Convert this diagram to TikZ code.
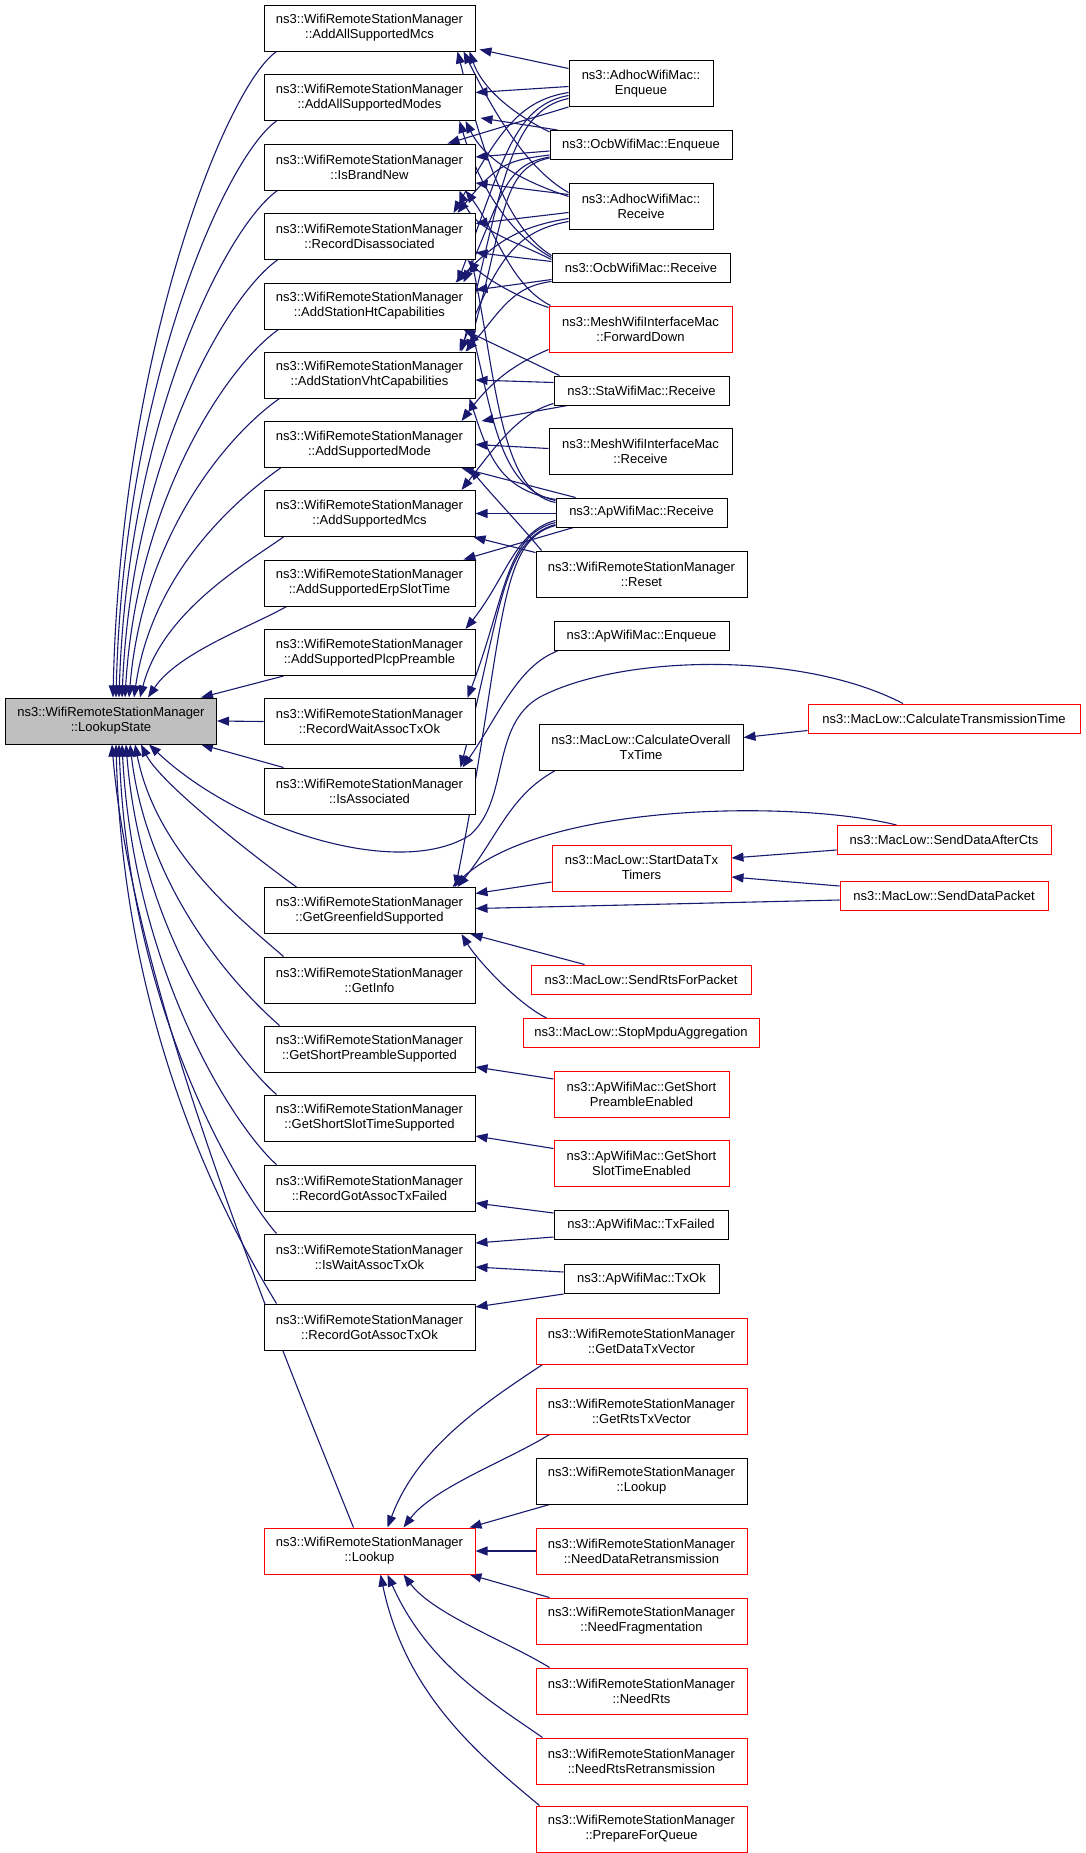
\documentclass[tikz,border=0pt]{standalone}
\usepackage{fontspec}
\setmainfont{Liberation Sans}
\usetikzlibrary{arrows.meta}
\pgfdeclarelayer{bg}
\pgfsetlayers{bg,main}
\definecolor{edgec}{HTML}{191970}
\definecolor{lsgray}{HTML}{BFBFBF}
\begin{document}
\begin{tikzpicture}[x=1pt,y=-1pt,
  nbox/.style={draw=black,line width=1pt,fill=white,inner sep=0pt,align=center,font=\fontsize{13}{15}\selectfont},
  rnbox/.style={nbox,draw=red},
  midbox/.style={nbox,minimum width=211pt,minimum height=46pt},
  rmidbox/.style={midbox,draw=red},
  ed/.style={draw=edgec,line width=1.1pt,-{Triangle[length=12pt,width=9pt]}}]
\begin{pgfonlayer}{bg}
\fill[white] (0,0) rectangle (1085,1853);
\end{pgfonlayer}
\useasboundingbox (0,0) rectangle (1085,1853);

% main node
\node[midbox,fill=lsgray] (LS) at (111,721) {ns3::WifiRemoteStationManager\\::LookupState};

% middle column
\node[midbox] (M1) at (369.5,28) {ns3::WifiRemoteStationManager\\::AddAllSupportedMcs};
\node[midbox] (M2) at (369.5,97.5) {ns3::WifiRemoteStationManager\\::AddAllSupportedModes};
\node[midbox] (M3) at (369.5,167) {ns3::WifiRemoteStationManager\\::IsBrandNew};
\node[midbox] (M4) at (369.5,236.5) {ns3::WifiRemoteStationManager\\::RecordDisassociated};
\node[midbox] (M5) at (369.5,306) {ns3::WifiRemoteStationManager\\::AddStationHtCapabilities};
\node[midbox] (M6) at (369.5,375) {ns3::WifiRemoteStationManager\\::AddStationVhtCapabilities};
\node[midbox] (M7) at (369.5,444.5) {ns3::WifiRemoteStationManager\\::AddSupportedMode};
\node[midbox] (M8) at (369.5,513.5) {ns3::WifiRemoteStationManager\\::AddSupportedMcs};
\node[midbox] (M9) at (369.5,583) {ns3::WifiRemoteStationManager\\::AddSupportedErpSlotTime};
\node[midbox] (M10) at (369.5,652.5) {ns3::WifiRemoteStationManager\\::AddSupportedPlcpPreamble};
\node[midbox] (M11) at (369.5,721.5) {ns3::WifiRemoteStationManager\\::RecordWaitAssocTxOk};
\node[midbox] (M12) at (369.5,791) {ns3::WifiRemoteStationManager\\::IsAssociated};
\node[midbox] (M13) at (369.5,910.5) {ns3::WifiRemoteStationManager\\::GetGreenfieldSupported};
\node[midbox] (M14) at (369.5,980) {ns3::WifiRemoteStationManager\\::GetInfo};
\node[midbox] (M15) at (369.5,1049) {ns3::WifiRemoteStationManager\\::GetShortPreambleSupported};
\node[midbox] (M16) at (369.5,1118) {ns3::WifiRemoteStationManager\\::GetShortSlotTimeSupported};
\node[midbox] (M17) at (369.5,1188) {ns3::WifiRemoteStationManager\\::RecordGotAssocTxFailed};
\node[midbox] (M18) at (369.5,1257) {ns3::WifiRemoteStationManager\\::IsWaitAssocTxOk};
\node[midbox] (M19) at (369.5,1327) {ns3::WifiRemoteStationManager\\::RecordGotAssocTxOk};
\node[rmidbox] (LK) at (369.5,1551) {ns3::WifiRemoteStationManager\\::Lookup};

% right column
\node[nbox,minimum width=144pt,minimum height=46pt] (AE) at (641,83.5) {ns3::AdhocWifiMac::\\Enqueue};
\node[nbox,minimum width=182pt,minimum height=29pt] (OE) at (641,145) {ns3::OcbWifiMac::Enqueue};
\node[nbox,minimum width=144pt,minimum height=46pt] (AR) at (641,206.5) {ns3::AdhocWifiMac::\\Receive};
\node[nbox,minimum width=178pt,minimum height=29pt] (OR) at (641,267.5) {ns3::OcbWifiMac::Receive};
\node[rnbox,minimum width=183pt,minimum height=46pt] (FD) at (640.5,329) {ns3::MeshWifiInterfaceMac\\::ForwardDown};
\node[nbox,minimum width=175pt,minimum height=29pt] (SR) at (641.5,390.5) {ns3::StaWifiMac::Receive};
\node[nbox,minimum width=183pt,minimum height=46pt] (MR) at (640.5,451.5) {ns3::MeshWifiInterfaceMac\\::Receive};
\node[nbox,minimum width=171pt,minimum height=29pt] (APR) at (641.5,512.5) {ns3::ApWifiMac::Receive};
\node[nbox,minimum width=211pt,minimum height=46pt] (RST) at (641.5,574) {ns3::WifiRemoteStationManager\\::Reset};
\node[nbox,minimum width=175pt,minimum height=29pt] (APE) at (641.5,636) {ns3::ApWifiMac::Enqueue};
\node[nbox,minimum width=204pt,minimum height=46pt] (COT) at (641,747.5) {ns3::MacLow::CalculateOverall\\TxTime};
\node[rnbox,minimum width=179pt,minimum height=46pt] (SDT) at (641.5,868) {ns3::MacLow::StartDataTx\\Timers};
\node[rnbox,minimum width=220pt,minimum height=29pt] (SRP) at (641,979.5) {ns3::MacLow::SendRtsForPacket};
\node[rnbox,minimum width=236pt,minimum height=29pt] (SMA) at (641,1033) {ns3::MacLow::StopMpduAggregation};
\node[rnbox,minimum width=175pt,minimum height=46pt] (GSP) at (641.5,1094) {ns3::ApWifiMac::GetShort\\PreambleEnabled};
\node[rnbox,minimum width=175pt,minimum height=46pt] (GSS) at (641.5,1163.5) {ns3::ApWifiMac::GetShort\\SlotTimeEnabled};
\node[nbox,minimum width=174pt,minimum height=29pt] (TXF) at (641,1225) {ns3::ApWifiMac::TxFailed};
\node[nbox,minimum width=155pt,minimum height=29pt] (TXO) at (641.5,1279) {ns3::ApWifiMac::TxOk};
\node[rmidbox] (GDV) at (641.5,1341) {ns3::WifiRemoteStationManager\\::GetDataTxVector};
\node[rmidbox] (GRV) at (641.5,1411) {ns3::WifiRemoteStationManager\\::GetRtsTxVector};
\node[midbox] (LK2) at (641.5,1481) {ns3::WifiRemoteStationManager\\::Lookup};
\node[rmidbox] (NDR) at (641.5,1551) {ns3::WifiRemoteStationManager\\::NeedDataRetransmission};
\node[rmidbox] (NF) at (641.5,1621) {ns3::WifiRemoteStationManager\\::NeedFragmentation};
\node[rmidbox] (NR) at (641.5,1691) {ns3::WifiRemoteStationManager\\::NeedRts};
\node[rmidbox] (NRR) at (641.5,1761) {ns3::WifiRemoteStationManager\\::NeedRtsRetransmission};
\node[rmidbox] (PFQ) at (641.5,1829) {ns3::WifiRemoteStationManager\\::PrepareForQueue};

% far right column
\node[rnbox,minimum width=272pt,minimum height=29pt] (CTT) at (944,718.5) {ns3::MacLow::CalculateTransmissionTime};
\node[rnbox,minimum width=214pt,minimum height=29pt] (SDA) at (944,840) {ns3::MacLow::SendDataAfterCts};
\node[rnbox,minimum width=208pt,minimum height=29pt] (SDP) at (944,896) {ns3::MacLow::SendDataPacket};

\begin{pgfonlayer}{bg}
% AdhocWifiMac::Enqueue
\draw[ed] ([shift={(0,-15)}]AE.west) -- ([shift={(4,-2)}]M1.south east);
\draw[ed] ([shift={(0,3)}]AE.west) -- ([shift={(0,-5)}]M2.east);
\draw[ed] (AE.south west) -- ([shift={(-28,0)}]M3.north east);
\draw[ed] ([shift={(0,9)}]AE.west) .. controls +(-50,8) and +(45,-80) .. ([shift={(-22,0)}]M4.north east);
\draw[ed] ([shift={(0,12)}]AE.west) .. controls +(-55,10) and +(45,-120) .. ([shift={(-18,0)}]M5.north east);
\draw[ed] ([shift={(0,15)}]AE.west) .. controls +(-60,12) and +(40,-160) .. ([shift={(-14,0)}]M6.north east);
% OcbWifiMac::Enqueue
\draw[ed] ([shift={(0,2)}]OE.north west) .. controls +(-40,-20) and +(12,35) .. ([shift={(-6,0)}]M1.south east);
\draw[ed] ([shift={(8,0)}]OE.north west) -- ([shift={(5,-3)}]M2.south east);
\draw[ed] ([shift={(0,6)}]OE.west) -- ([shift={(0,-10)}]M3.east);
\draw[ed] ([shift={(0,10)}]OE.west) .. controls +(-40,5) and +(40,-50) .. ([shift={(-18,0)}]M4.north east);
\draw[ed] ([shift={(0,12)}]OE.west) .. controls +(-45,8) and +(40,-90) .. ([shift={(-12,0)}]M5.north east);
\draw[ed] ([shift={(0,13)}]OE.west) .. controls +(-50,10) and +(38,-130) .. ([shift={(-8,0)}]M6.north east);
% AdhocWifiMac::Receive
\draw[ed] ([shift={(0,-14)}]AR.west) .. controls +(-45,-25) and +(25,50) .. ([shift={(-12,0)}]M1.south east);
\draw[ed] ([shift={(0,-10)}]AR.west) .. controls +(-45,-15) and +(20,40) .. ([shift={(-10,0)}]M2.south east);
\draw[ed] ([shift={(0,-12)}]AR.west) -- ([shift={(0,16)}]M3.east);
\draw[ed] ([shift={(0,6)}]AR.west) -- ([shift={(0,-13)}]M4.east);
\draw[ed] ([shift={(0,12)}]AR.west) .. controls +(-50,8) and +(40,-40) .. ([shift={(-20,0)}]M5.north east);
\draw[ed] ([shift={(0,15)}]AR.west) .. controls +(-55,10) and +(38,-90) .. ([shift={(-16,0)}]M6.north east);
% OcbWifiMac::Receive
\draw[ed] ([shift={(0,-12)}]OR.west) .. controls +(-50,-30) and +(20,80) .. ([shift={(-18,0)}]M1.south east);
\draw[ed] ([shift={(0,-10)}]OR.west) .. controls +(-45,-25) and +(18,60) .. ([shift={(-16,0)}]M2.south east);
\draw[ed] ([shift={(0,-8)}]OR.west) .. controls +(-40,-20) and +(15,40) .. ([shift={(-16,0)}]M3.south east);
\draw[ed] ([shift={(0,-6)}]OR.west) -- ([shift={(0,16)}]M4.east);
\draw[ed] ([shift={(0,12)}]OR.west) -- ([shift={(0,-16)}]M5.east);
\draw[ed] ([shift={(0,14)}]OR.west) .. controls +(-40,5) and +(35,-40) .. ([shift={(-10,0)}]M6.north east);
% MeshWifiInterfaceMac::ForwardDown
\draw[ed] ([shift={(2,0)}]FD.north west) .. controls +(-40,-20) and +(30,40) .. ([shift={(-10,0)}]M3.south east);
\draw[ed] ([shift={(0,2)}]FD.north west) .. controls +(-30,-10) and +(20,20) .. ([shift={(-8,0)}]M4.south east);
\draw[ed] ([shift={(0,-3)}]FD.south west) .. controls +(-35,15) and +(30,-40) .. ([shift={(-14,0)}]M7.north east);
% StaWifiMac::Receive
\draw[ed] ([shift={(6,0)}]SR.north west) -- ([shift={(-12,0)}]M5.south east);
\draw[ed] ([shift={(0,-8)}]SR.west) -- ([shift={(0,5)}]M6.east);
\draw[ed] ([shift={(14,0)}]SR.south west) -- ([shift={(6,0)}]M7.north east);
\draw[ed] ([shift={(0,-2)}]SR.south west) .. controls +(-35,10) and +(35,-45) .. ([shift={(-14,0)}]M8.north east);
% MeshWifiInterfaceMac::Receive
\draw[ed] ([shift={(0,-3)}]MR.west) -- (M7.east);
% ApWifiMac::Receive
\draw[ed] ([shift={(0,1)}]APR.west) -- (M8.east);
\draw[ed] ([shift={(20,0)}]APR.north west) -- ([shift={(-14,0)}]M7.south east);
\draw[ed] ([shift={(18,0)}]APR.south west) -- ([shift={(-12,0)}]M9.north east);
\draw[ed] ([shift={(0,8)}]APR.west) .. controls +(-40,10) and +(40,-50) .. ([shift={(-10,0)}]M10.north east);
\draw[ed] ([shift={(0,10)}]APR.west) .. controls +(-50,12) and +(38,-100) .. ([shift={(-8,0)}]M11.north east);
\draw[ed] ([shift={(0,12)}]APR.west) .. controls +(-55,15) and +(40,-150) .. ([shift={(-15,0)}]M12.north east);
\draw[ed] ([shift={(0,13)}]APR.west) .. controls +(-60,15) and +(50,-250) .. ([shift={(-20,0)}]M13.north east);
\draw[ed] ([shift={(0,-10)}]APR.west) .. controls +(-55,-10) and +(25,120) .. ([shift={(-4,0)}]M4.south east);
\draw[ed] ([shift={(0,-12)}]APR.west) .. controls +(-55,-12) and +(22,90) .. ([shift={(-4,0)}]M5.south east);
\draw[ed] ([shift={(0,-13)}]APR.west) .. controls +(-55,-10) and +(20,60) .. ([shift={(-6,0)}]M6.south east);
% Reset
\draw[ed] ([shift={(6,0)}]RST.north west) .. controls +(-25,-30) and +(25,30) .. ([shift={(-6,0)}]M7.south east);
\draw[ed] ([shift={(0,2)}]RST.north west) -- ([shift={(-2,0)}]M8.south east);
% ApWifiMac::Enqueue
\draw[ed] ([shift={(4,0)}]APE.south west) .. controls +(-40,15) and +(35,-50) .. ([shift={(-13,0)}]M12.north east);
% GetGreenfieldSupported callers
\draw[ed] ([shift={(16,0)}]COT.south west) .. controls +(-45,25) and +(40,-50) .. ([shift={(-18,0)}]M13.north east);
\draw[ed] ([shift={(60,0)}]SDA.north west) .. controls +(-100,-25) and +(90,-85) .. ([shift={(-23,0)}]M13.north east);
\draw[ed] ([shift={(0,14)}]SDT.west) -- ([shift={(0,-17)}]M13.east);
\draw[ed] ([shift={(0,4)}]SDP.west) -- ([shift={(0,-2)}]M13.east);
\draw[ed] ([shift={(54,0)}]SRP.north west) -- ([shift={(-5,0)}]M13.south east);
\draw[ed] ([shift={(24,0)}]SMA.north west) .. controls +(-30,-15) and +(15,25) .. ([shift={(-14,0)}]M13.south east);
\draw[ed] ([shift={(0,10)}]SDA.west) -- ([shift={(0,-10)}]SDT.east);
\draw[ed] ([shift={(0,-10)}]SDP.west) -- ([shift={(0,9)}]SDT.east);
\draw[ed] ([shift={(0,12)}]CTT.west) -- ([shift={(0,-10)}]COT.east);
\draw[ed] ([shift={(-41,0)}]CTT.north) .. controls (800,650) and (620,655) .. (540,697)
   .. controls (490,725) and (510,800) .. (470,835)
   .. controls (400,880) and (240,830) .. ([shift={(38,0)}]LS.south);
% others
\draw[ed] ([shift={(0,-15)}]GSP.west) -- ([shift={(0,18)}]M15.east);
\draw[ed] ([shift={(0,-15)}]GSS.west) -- ([shift={(0,18)}]M16.east);
\draw[ed] ([shift={(0,-12)}]TXF.west) -- ([shift={(0,15)}]M17.east);
\draw[ed] ([shift={(0,12)}]TXF.west) -- ([shift={(0,-14)}]M18.east);
\draw[ed] ([shift={(0,-7)}]TXO.west) -- ([shift={(0,10)}]M18.east);
\draw[ed] (TXO.south west) -- ([shift={(0,-20)}]M19.east);
% Lookup callers
\draw[ed] ([shift={(7,0)}]GDV.south west) .. controls +(-60,40) and +(30,-80) .. ([shift={(-88,0)}]LK.north east);
\draw[ed] ([shift={(14,0)}]GRV.south west) .. controls +(-40,25) and +(30,-40) .. ([shift={(-72,0)}]LK.north east);
\draw[ed] ([shift={(14,0)}]LK2.south west) -- ([shift={(-6,0)}]LK.north east);
\draw[ed] (NDR.west) -- (LK.east);
\draw[ed] ([shift={(14,0)}]NF.north west) -- ([shift={(-6,0)}]LK.south east);
\draw[ed] ([shift={(14,0)}]NR.north west) .. controls +(-40,-25) and +(30,40) .. ([shift={(-72,0)}]LK.south east);
\draw[ed] ([shift={(7,0)}]NRR.north west) .. controls +(-50,-35) and +(40,90) .. ([shift={(-88,0)}]LK.south east);
\draw[ed] ([shift={(4,0)}]PFQ.north west) .. controls +(-60,-50) and +(25,120) .. ([shift={(-95,0)}]LK.south east);
% fan into LookupState (top)
\draw[ed] ([shift={(13,0)}]M1.south west) .. controls +(-50,35) and +(8,-350) .. ([shift={(2,0)}]LS.north);
\draw[ed] ([shift={(13,0)}]M2.south west) .. controls +(-50,35) and +(8,-315) .. ([shift={(5,0)}]LS.north);
\draw[ed] ([shift={(14,0)}]M3.south west) .. controls +(-50,35) and +(9,-280) .. ([shift={(8,0)}]LS.north);
\draw[ed] ([shift={(14,0)}]M4.south west) .. controls +(-50,35) and +(10,-240) .. ([shift={(11,0)}]LS.north);
\draw[ed] ([shift={(15,0)}]M5.south west) .. controls +(-50,35) and +(12,-200) .. ([shift={(14,0)}]LS.north);
\draw[ed] ([shift={(16,0)}]M6.south west) .. controls +(-50,35) and +(14,-165) .. ([shift={(18,0)}]LS.north);
\draw[ed] ([shift={(17,0)}]M7.south west) .. controls +(-45,32) and +(18,-125) .. ([shift={(23,0)}]LS.north);
\draw[ed] ([shift={(20,0)}]M8.south west) .. controls +(-40,28) and +(22,-85) .. ([shift={(29,0)}]LS.north);
\draw[ed] ([shift={(23,0)}]M9.south west) .. controls +(-35,20) and +(30,-45) .. ([shift={(37,0)}]LS.north);
\draw[ed] ([shift={(20,0)}]M10.south west) -- ([shift={(-16,0)}]LS.north east);
\draw[ed] (M11.west) -- (LS.east);
\draw[ed] ([shift={(20,0)}]M12.north west) -- ([shift={(-16,0)}]LS.south east);
% fan into LookupState (bottom)
\draw[ed] ([shift={(33,0)}]M13.north west) .. controls +(-35,-25) and +(20,40) .. ([shift={(30,0)}]LS.south);
\draw[ed] ([shift={(20,0)}]M14.north west) .. controls +(-40,-35) and +(22,110) .. ([shift={(24,0)}]LS.south);
\draw[ed] ([shift={(16,0)}]M15.north west) .. controls +(-40,-35) and +(18,150) .. ([shift={(19,0)}]LS.south);
\draw[ed] ([shift={(13,0)}]M16.north west) .. controls +(-40,-35) and +(15,190) .. ([shift={(15,0)}]LS.south);
\draw[ed] ([shift={(13,0)}]M17.north west) .. controls +(-40,-35) and +(12,230) .. ([shift={(11,0)}]LS.south);
\draw[ed] ([shift={(13,0)}]M18.north west) .. controls +(-35,-40) and +(10,270) .. ([shift={(8,0)}]LS.south);
\draw[ed] ([shift={(13,0)}]M19.north west) .. controls +(-30,-50) and +(8,310) .. ([shift={(5,0)}]LS.south);
\draw[ed] ([shift={(-16,0)}]LK.north) .. controls +(-60,-150) and +(20,250) .. ([shift={(1,0)}]LS.south);
\end{pgfonlayer}
\end{tikzpicture}
\end{document}
